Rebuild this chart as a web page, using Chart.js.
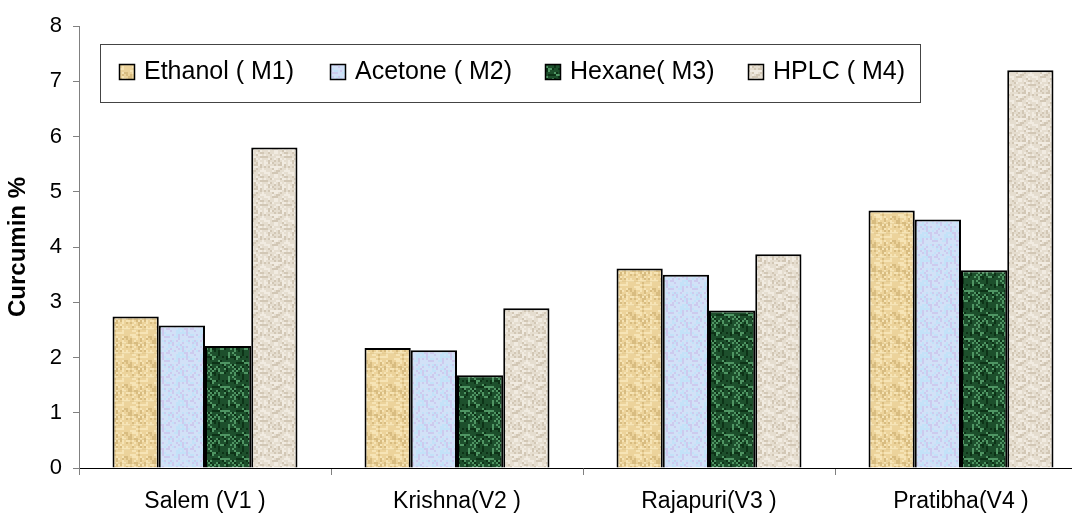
<!DOCTYPE html>
<html>
<head>
<meta charset="utf-8">
<script src="https://cdn.jsdelivr.net/npm/chart.js@4.4.1/dist/chart.umd.min.js"></script>
<style>
html, body { margin: 0; padding: 0; background: #fff; overflow: hidden; }
#wrap { position: relative; width: 1088px; height: 515px; }
</style>
</head>
<body>
<div id="wrap"><canvas id="curcuminChart"></canvas></div>
<script>
const varieties = ["Salem (V1 )", "Krishna(V2 )", "Rajapuri(V3 )", "Pratibha(V4 )"];
const seriesNames = ["Ethanol ( M1)", "Acetone ( M2)", "Hexane( M3)", "HPLC ( M4)"];
const ethanolM1 = [2.74, 2.17, 3.61, 4.66];
const acetoneM2 = [2.58, 2.13, 3.50, 4.50];
const hexaneM3 = [2.21, 1.68, 2.85, 3.58];
const hplcM4 = [5.80, 2.89, 3.87, 7.20];
const yMin = 0, yMax = 8, yStep = 1;

const FONT = '"Liberation Sans", Arial, sans-serif';

// small deterministic hash, only used for the bar textures
function hash(i, j, s) {
    var v = Math.sin(i * 12.9898 + j * 78.233 + s * 37.719) * 43758.5453;
    return v - Math.floor(v);
}

function makeTexture(base, light, dark, seed, rowBands) {
    var c = document.createElement('canvas');
    c.width = 24; c.height = 24;
    var g = c.getContext('2d');
    g.fillStyle = base;
    g.fillRect(0, 0, 24, 24);
    for (var y = 0; y < 24; y += 2) {
        for (var x = 0; x < 24; x += 2) {
            var r = hash(x, y, seed);
            if (r > 0.72) { g.fillStyle = light; g.fillRect(x, y, 2, 2); }
            else if (r < 0.2) { g.fillStyle = dark; g.fillRect(x, y, 2, 2); }
        }
    }
    if (rowBands) {
        g.fillStyle = dark;
        g.globalAlpha = 0.35;
        g.fillRect(0, 7, 24, 1);
        g.fillRect(0, 17, 24, 1);
        g.globalAlpha = 1;
    }
    return g.createPattern(c, 'repeat');
}

const ethanolFill = makeTexture('#ecd39b', '#f6e4b6', '#d8bc80', 1, true);
const acetoneFill = makeTexture('#d2e1f7', '#c3e2f8', '#cdcaee', 2, false);
const hexaneFill = makeTexture('#1d4f2c', '#4f9563', '#0d3217', 3, false);
const hplcFill = makeTexture('#e5ddcf', '#f1ebe1', '#d2c7b5', 4, false);

const boxLegend = {
    id: 'boxLegend',
    afterDraw(chart) {
        const ctx = chart.ctx;
        ctx.save();
        ctx.fillStyle = '#fff';
        ctx.fillRect(100, 44, 821, 59);
        ctx.strokeStyle = '#444';
        ctx.lineWidth = 1;
        ctx.strokeRect(100.5, 44.5, 820, 58);
        ctx.font = '25px ' + FONT;
        ctx.textBaseline = 'middle';
        const xs = [119, 330, 545, 748];
        chart.data.datasets.forEach((ds, i) => {
            ctx.fillStyle = ds.backgroundColor;
            ctx.fillRect(xs[i], 64, 16, 16);
            ctx.strokeStyle = '#000';
            ctx.lineWidth = 1.5;
            ctx.strokeRect(xs[i] + 0.5, 64.5, 15, 15);
            ctx.fillStyle = '#000';
            ctx.fillText(ds.label, xs[i] + 25, 72);
        });
        ctx.restore();
    }
};

function barSet(label, data, fill) {
    return {
        label: label,
        data: data,
        backgroundColor: fill,
        borderColor: '#000',
        borderWidth: 2,
        barPercentage: 1,
        categoryPercentage: 0.734
    };
}

new Chart(document.getElementById('curcuminChart'), {
    type: 'bar',
    data: {
        labels: varieties,
        datasets: [
            barSet(seriesNames[0], ethanolM1, ethanolFill),
            barSet(seriesNames[1], acetoneM2, acetoneFill),
            barSet(seriesNames[2], hexaneM3, hexaneFill),
            barSet(seriesNames[3], hplcM4, hplcFill)
        ]
    },
    options: {
        responsive: true,
        maintainAspectRatio: false,
        animation: false,
        layout: { padding: { top: 26, right: 1, left: 0, bottom: 0 } },
        plugins: {
            legend: { display: false },
            tooltip: { enabled: false }
        },
        scales: {
            x: {
                grid: { display: true, drawOnChartArea: false, drawTicks: true, tickLength: 7, color: '#808080' },
                border: { color: '#000', width: 1 },
                ticks: { color: '#000', padding: 13, font: { family: FONT, size: 23 } },
                afterFit(scale) { scale.height = 47; }
            },
            y: {
                min: yMin,
                max: yMax,
                ticks: { stepSize: yStep, color: '#000', padding: 11, font: { family: FONT, size: 22 } },
                grid: { display: true, drawOnChartArea: false, drawTicks: true, tickLength: 6, color: '#808080' },
                border: { color: '#808080', width: 1 },
                title: {
                    display: true,
                    text: 'Curcumin %',
                    color: '#000',
                    padding: { top: 4, bottom: 0 },
                    font: { family: FONT, size: 24, weight: 'bold' }
                },
                afterFit(scale) { scale.width = 79; }
            }
        }
    },
    plugins: [boxLegend]
});
</script>
</body>
</html>
